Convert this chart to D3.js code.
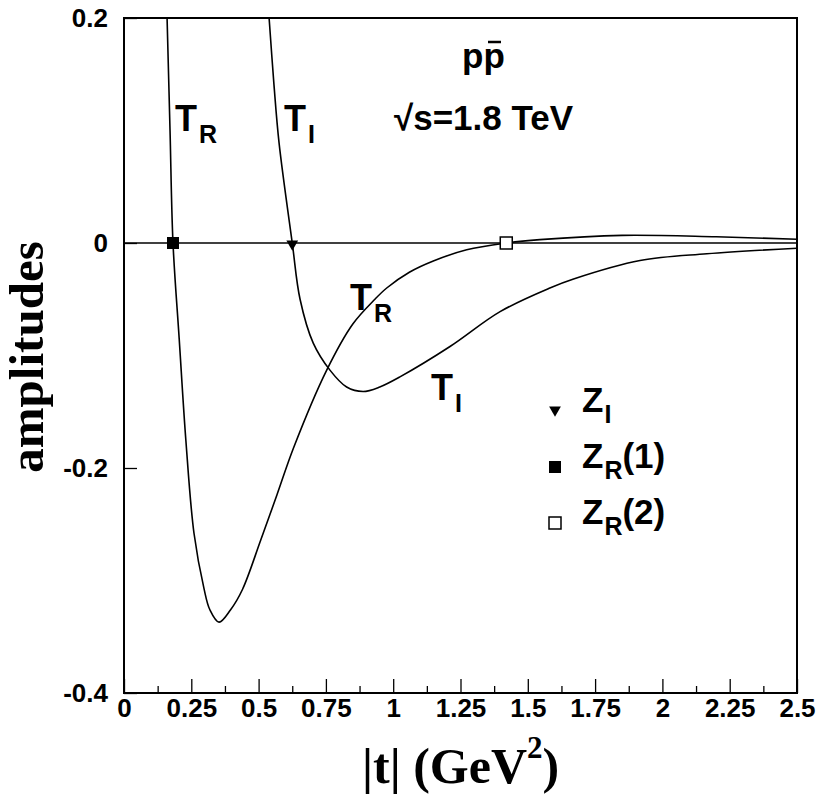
<!DOCTYPE html>
<html>
<head>
<meta charset="utf-8">
<script src="https://cdn.jsdelivr.net/npm/d3@7"></script>
<style>
  body { margin: 0; background: #fff; }
  svg { display: block; }
  .lab { font-family: "Liberation Sans", Arial, sans-serif; font-weight: bold; fill: #000; }
  .ttl { font-family: "Liberation Serif", "Times New Roman", serif; font-weight: bold; fill: #000; }
</style>
</head>
<body>
<script>
// amplitudes vs |t|, pp-bar at sqrt(s) = 1.8 TeV
var tR = [0.153, 0.160, 0.171, 0.182, 0.205, 0.230, 0.260, 0.297, 0.319, 0.353, 0.396, 0.44, 0.508, 0.568, 0.63, 0.753, 0.85, 0.932, 0.976, 1.06, 1.149, 1.273, 1.42, 1.545, 1.85, 2.2, 2.5]
var aR = [0.26, 0.200, 0.100, 0.000, -0.085, -0.176, -0.258, -0.307, -0.326, -0.337, -0.326, -0.308, -0.264, -0.224, -0.182, -0.113, -0.072, -0.050, -0.040, -0.026, -0.016, -0.006, 0.000, 0.003, 0.0068, 0.0055, 0.0033]

var tI = [0.525, 0.539, 0.557, 0.576, 0.625, 0.654, 0.703, 0.765, 0.827, 0.888, 0.95, 1.025, 1.211, 1.397, 1.582, 1.67, 1.917, 2.165, 2.5]
var aI = [0.245, 0.200, 0.141, 0.089, 0.000, -0.050, -0.089, -0.113, -0.128, -0.132, -0.128, -0.119, -0.092, -0.061, -0.040, -0.032, -0.0156, -0.0096, -0.0046]

// zeros: Z_I, Z_R(1), Z_R(2)
var zeroNames = ["ZI", "ZR1", "ZR2"]
var zeroT = [0.625, 0.182, 1.42]

var xTicks = [0, 0.25, 0.5, 0.75, 1, 1.25, 1.5, 1.75, 2, 2.25, 2.5]
var xTickLabels = ["0", "0.25", "0.5", "0.75", "1", "1.25", "1.5", "1.75", "2", "2.25", "2.5"]
var xMinor = [0.125, 0.375, 0.625, 0.875, 1.125, 1.375, 1.625, 1.875, 2.125, 2.375]
var yTicks = [-0.4, -0.2, 0, 0.2]
var yTickLabels = ["-0.4", "-0.2", "0", "0.2"]

var W = 823, H = 799
var pL = 124, pR = 797, pT = 18, pB = 693

var svg = d3.select("body").append("svg").attr("width", W).attr("height", H)

var x = d3.scaleLinear().domain([0, 2.5]).range([pL, pR])
var y = d3.scaleLinear().domain([-0.4, 0.2]).range([pB, pT])

svg.append("clipPath").attr("id", "clip")
  .append("rect").attr("x", pL).attr("y", pT).attr("width", pR - pL).attr("height", pB - pT)

// zero line
svg.append("line")
  .attr("x1", pL).attr("x2", pR).attr("y1", y(0)).attr("y2", y(0))
  .attr("stroke", "#000").attr("stroke-width", 1.6)

// curves
var line = d3.line().x(d => x(d[0])).y(d => y(d[1])).curve(d3.curveCatmullRom.alpha(0.5))
var curves = [d3.zip(tR, aR), d3.zip(tI, aI)]
svg.append("g").attr("clip-path", "url(#clip)")
  .selectAll("path").data(curves).join("path")
  .attr("d", line)
  .attr("fill", "none").attr("stroke", "#000").attr("stroke-width", 1.6)

// axes: ticks inside the frame
var xAxis = d3.axisBottom(x).tickValues(xTicks).tickSize(-14).tickFormat((d, i) => xTickLabels[i]).tickPadding(24)
var gx = svg.append("g").attr("transform", "translate(0," + pB + ")").call(xAxis)
gx.select(".domain").remove()
gx.selectAll(".tick line").attr("stroke", "#000").attr("stroke-width", 1.3)
gx.selectAll(".tick text").attr("class", "lab").style("font-size", "26px").attr("dy", "0")

var xAxisMinor = d3.axisBottom(x).tickValues(xMinor).tickSize(-7).tickFormat("")
var gxm = svg.append("g").attr("transform", "translate(0," + pB + ")").call(xAxisMinor)
gxm.select(".domain").remove()
gxm.selectAll(".tick line").attr("stroke", "#000").attr("stroke-width", 1.3)

var yAxis = d3.axisLeft(y).tickValues(yTicks).tickSize(-13).tickFormat((d, i) => yTickLabels[i]).tickPadding(16)
var gy = svg.append("g").attr("transform", "translate(" + pL + ",0)").call(yAxis)
gy.select(".domain").remove()
gy.selectAll(".tick line").attr("stroke", "#000").attr("stroke-width", 1.3)
gy.selectAll(".tick text").attr("class", "lab").style("font-size", "26px")

// frame
svg.append("rect")
  .attr("x", pL).attr("y", pT).attr("width", pR - pL).attr("height", pB - pT)
  .attr("fill", "none").attr("stroke", "#000").attr("stroke-width", 2)

// zero markers
var tri = d3.symbol(d3.symbolTriangle, 60)
var sq = d3.symbol(d3.symbolSquare, 144)
function marker(g, name) {
  if (name == "ZI") {
    g.append("path").attr("d", tri()).attr("transform", "rotate(180)").attr("fill", "#000")
  } else if (name == "ZR1") {
    g.append("path").attr("d", sq()).attr("fill", "#000")
  } else {
    g.append("path").attr("d", sq()).attr("fill", "#fff").attr("stroke", "#000").attr("stroke-width", 1.5)
  }
}
zeroNames.forEach(function(n, i) {
  var g = svg.append("g").attr("transform", "translate(" + x(zeroT[i]) + "," + (y(0) + (n == "ZI" ? 1 : 0)) + ")")
  marker(g, n)
})

// curve labels
function subLabel(px, py, main, sub, size) {
  var t = svg.append("text").attr("class", "lab").attr("x", px).attr("y", py).style("font-size", size + "px")
  t.append("tspan").text(main)
  t.append("tspan").attr("dx", 2).attr("dy", 12).style("font-size", Math.round(size * 0.7) + "px").text(sub)
  return t
}
subLabel(175, 131, "T", "R", 36)
subLabel(284, 131, "T", "I", 36)
subLabel(350, 310, "T", "R", 36)
subLabel(431, 400, "T", "I", 36)

// process text
svg.append("text").attr("class", "lab").attr("x", 462).attr("y", 68).style("font-size", "35px").text("pp")
svg.append("line").attr("x1", 488).attr("x2", 501).attr("y1", 42).attr("y2", 42).attr("stroke", "#000").attr("stroke-width", 2.5)
svg.append("text").attr("class", "lab").attr("x", 394).attr("y", 130).style("font-size", "35px").text("\u221As=1.8 TeV")

// legend
var legY = [411, 467, 523]
var legSub = ["I", "R", "R"]
var legTail = ["", "(1)", "(2)"]
zeroNames.forEach(function(n, i) {
  var g = svg.append("g").attr("transform", "translate(555," + (legY[i] - (n == "ZI" ? 1 : 0)) + ")")
  marker(g, n)
  var t = svg.append("text").attr("class", "lab").attr("x", 582).attr("y", legY[i] + 1).style("font-size", "35px")
  t.append("tspan").text("Z")
  t.append("tspan").attr("dx", 1).attr("dy", 11).style("font-size", "25px").text(legSub[i])
  if (legTail[i]) t.append("tspan").attr("dy", -11).text(legTail[i])
})

// axis titles
svg.append("text").attr("class", "ttl")
  .attr("transform", "translate(43,357) rotate(-90)")
  .attr("text-anchor", "middle").style("font-size", "49px").text("amplitudes")

var xt = svg.append("text").attr("class", "ttl").attr("x", 362).attr("y", 783).style("font-size", "50px")
xt.append("tspan").text("|t| (GeV")
xt.append("tspan").attr("dy", -25).style("font-size", "31px").text("2")
xt.append("tspan").attr("dy", 25).text(")")
</script>
</body>
</html>
